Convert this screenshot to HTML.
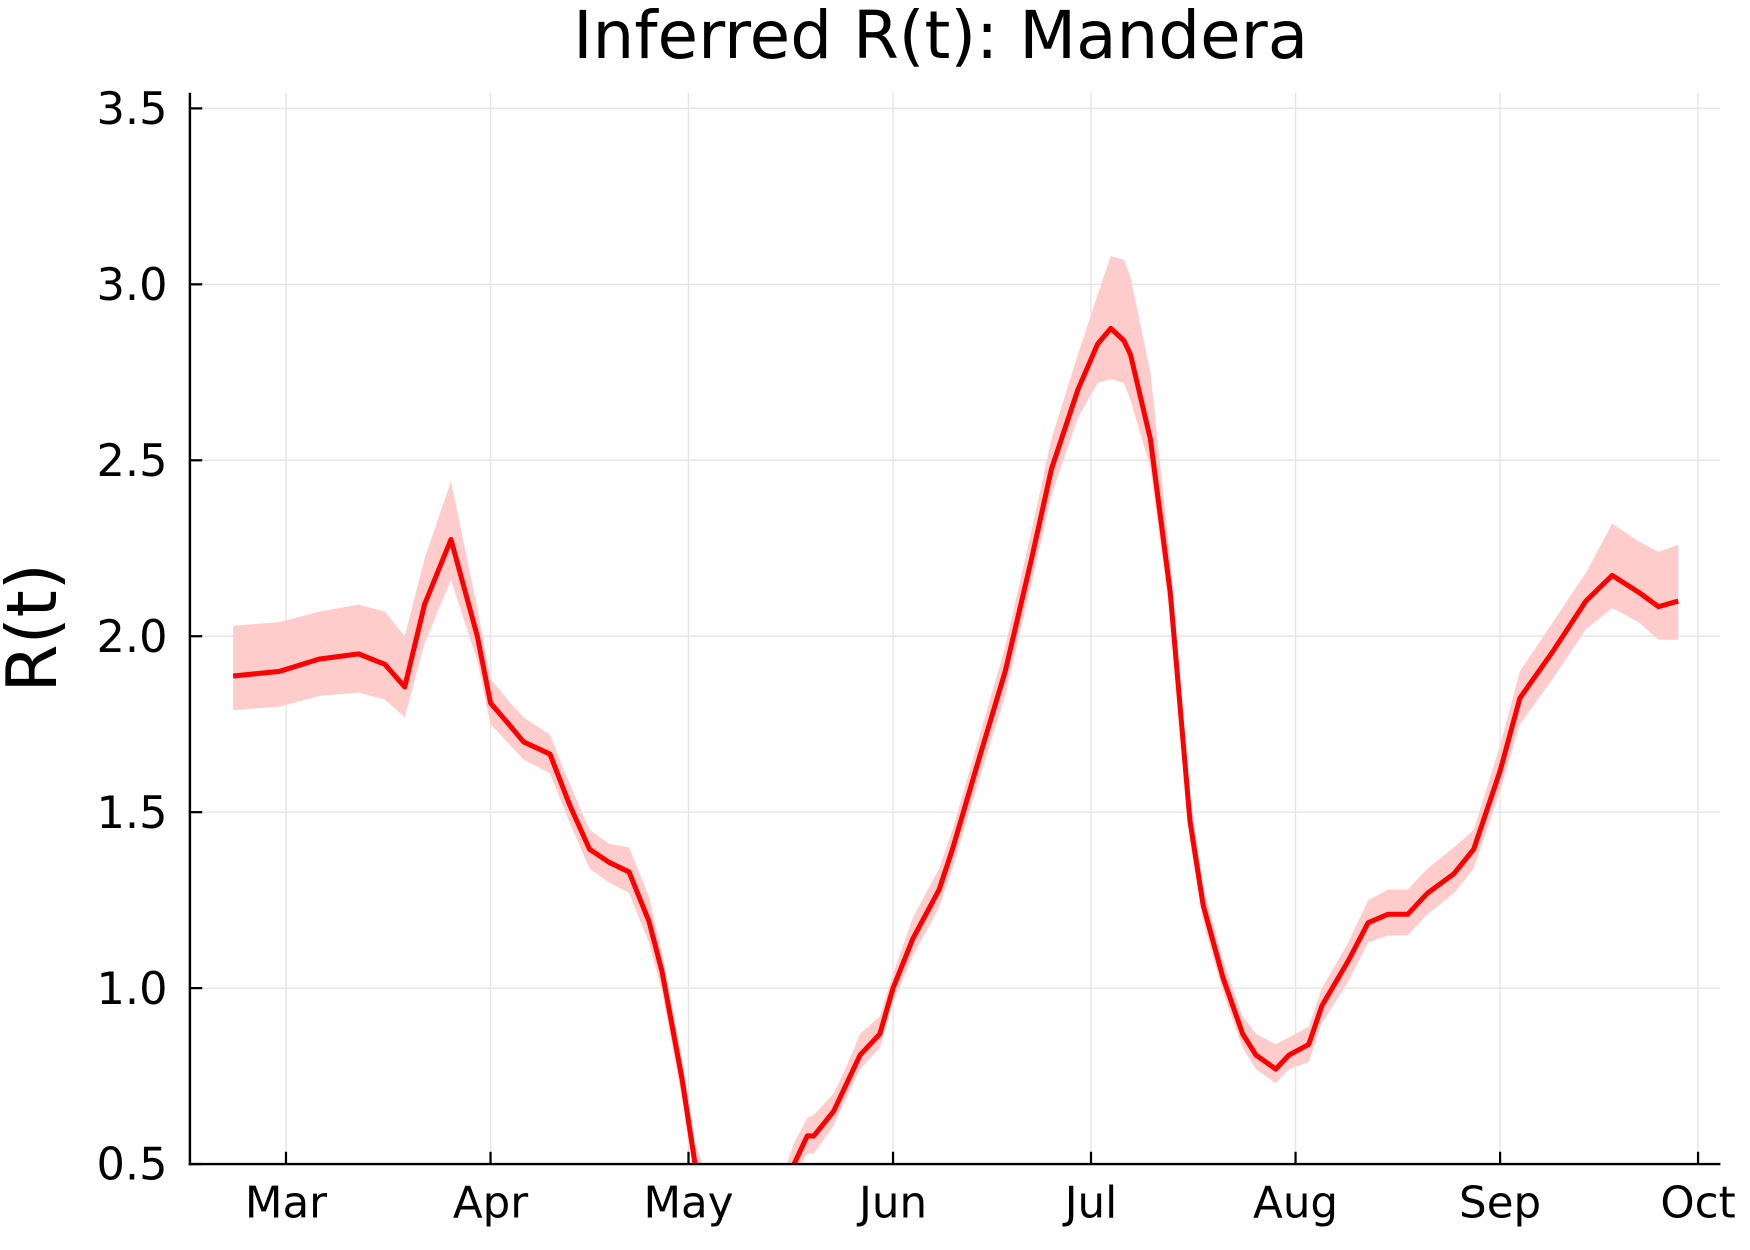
<!DOCTYPE html>
<html><head><meta charset="utf-8"><style>html,body{margin:0;padding:0;background:#fff;}svg{display:block;}</style></head>
<body>
<svg id="chart" width="1750" height="1250" viewBox="0 0 1566.5 1118.9" xmlns="http://www.w3.org/2000/svg" font-family="'DejaVu Sans','Liberation Sans',sans-serif">
<rect width="1566.5" height="1118.9" fill="#fff"/>
<defs><clipPath id="plotclip"><rect x="170" y="83" width="1370" height="959"/></clipPath></defs>
<g id="grid"></g>
<g id="band" clip-path="url(#plotclip)"></g>
<g id="line" clip-path="url(#plotclip)"></g>
<g id="axes"></g>
<text x="842" y="52" font-size="59" text-anchor="middle">Inferred R(t): Mandera</text>
<text x="0" y="0" font-size="62" text-anchor="middle" transform="translate(50,562) rotate(-90)">R(t)</text>
</svg>
<script>
const days = [-8,-1,5,11,15,18,21,25,29,31,34,36,40,43,46,49,52,55,57,60,62,66,73,77,79,80,83,85,87,90,92,95,99,101,105,109,113,116,120,123,125,127,128,131,134,137,139,142,145,147,150,152,155,157,161,164,167,170,173,177,180,184,187,192,197,201,205,208,211];
const meanR = [1.887,1.90,1.935,1.95,1.92,1.856,2.09,2.275,2.0,1.81,1.745,1.70,1.665,1.52,1.395,1.357,1.33,1.19,1.046,0.744,0.5,0.3,0.3,0.5,0.58,0.58,0.65,0.73,0.81,0.87,1.0,1.14,1.28,1.395,1.65,1.90,2.22,2.475,2.70,2.83,2.875,2.84,2.80,2.56,2.125,1.475,1.236,1.03,0.87,0.81,0.77,0.81,0.84,0.95,1.078,1.186,1.21,1.21,1.27,1.325,1.395,1.617,1.824,1.957,2.10,2.173,2.125,2.084,2.10];
const lowR = [1.79,1.80,1.83,1.84,1.82,1.77,1.98,2.16,1.93,1.75,1.69,1.65,1.61,1.47,1.34,1.30,1.27,1.13,0.99,0.69,0.45,0.25,0.25,0.46,0.53,0.53,0.61,0.69,0.77,0.83,0.96,1.09,1.23,1.34,1.59,1.83,2.15,2.40,2.62,2.72,2.73,2.72,2.67,2.48,2.06,1.42,1.19,0.99,0.83,0.77,0.73,0.77,0.79,0.90,1.02,1.13,1.15,1.15,1.21,1.27,1.34,1.56,1.75,1.88,2.02,2.08,2.04,1.99,1.99];
const highR = [2.03,2.04,2.07,2.09,2.07,2.00,2.22,2.44,2.08,1.88,1.81,1.77,1.72,1.58,1.45,1.41,1.40,1.26,1.10,0.80,0.56,0.35,0.35,0.56,0.63,0.64,0.70,0.78,0.87,0.92,1.04,1.20,1.34,1.45,1.71,1.97,2.30,2.56,2.80,2.97,3.08,3.07,3.02,2.75,2.22,1.55,1.29,1.08,0.92,0.87,0.84,0.86,0.89,1.00,1.13,1.25,1.28,1.28,1.34,1.40,1.45,1.69,1.90,2.04,2.18,2.32,2.27,2.24,2.26];
const yTicks = [0.5,1.0,1.5,2.0,2.5,3.0,3.5];
const monthLabels = ["Mar","Apr","May","Jun","Jul","Aug","Sep","Oct"];
const monthDays = [0,31,61,92,122,153,184,214];

const NS="http://www.w3.org/2000/svg";
const L=170,R=1540,T=83,B=1042;
function xs(d){return 256+d*(1264/214);}
function ys(v){return 1042-(v-0.5)*315;}
function mk(tag,attrs,parent){const e=document.createElementNS(NS,tag);for(const k in attrs)e.setAttribute(k,attrs[k]);parent.appendChild(e);return e;}
const grid=document.getElementById('grid'),axes=document.getElementById('axes');
yTicks.forEach(v=>{
  const g=mk('line',{x1:L,x2:R,y1:ys(v),y2:ys(v),stroke:'#e6e6e6','stroke-width':1.3},grid);
  
  
  const t=mk('line',{x1:L,x2:L+11,y1:ys(v),y2:ys(v),stroke:'#000','stroke-width':2},axes);
  
  
  const tx=mk('text',{x:L-20,y:ys(v)+14,'font-size':40,'text-anchor':'end'},axes);
  tx.textContent=v.toFixed(1);
  
  
});
monthDays.forEach((d,i)=>{
  const x=xs(d);
  const g=mk('line',{x1:x,x2:x,y1:T,y2:B,stroke:'#e6e6e6','stroke-width':1.3},grid);
  
  
  const t=mk('line',{x1:x,x2:x,y1:B,y2:B-11,stroke:'#000','stroke-width':2},axes);
  
  
  const tx=mk('text',{x:x,y:1090,'font-size':39,'text-anchor':'middle'},axes);
  tx.textContent=monthLabels[i];
  
  
});
const ax1=mk('line',{x1:L,x2:L,y1:T,y2:B+1,stroke:'#000','stroke-width':2.2},axes);


const ax2=mk('line',{x1:L-1,x2:R,y1:B,y2:B,stroke:'#000','stroke-width':2.2},axes);


let up=days.map((d,i)=>xs(d).toFixed(1)+','+ys(highR[i]).toFixed(1));
let dn=days.map((d,i)=>xs(d).toFixed(1)+','+ys(lowR[i]).toFixed(1)).reverse();
const band=mk('polygon',{points:up.concat(dn).join(' '),fill:'#ffcccc',stroke:'none'},document.getElementById('band'));


const ln=mk('polyline',{points:days.map((d,i)=>xs(d).toFixed(1)+','+ys(meanR[i]).toFixed(1)).join(' '),fill:'none',stroke:'#ff0000','stroke-width':4.5,'stroke-linejoin':'round'},document.getElementById('line'));


</script>
</body></html>
